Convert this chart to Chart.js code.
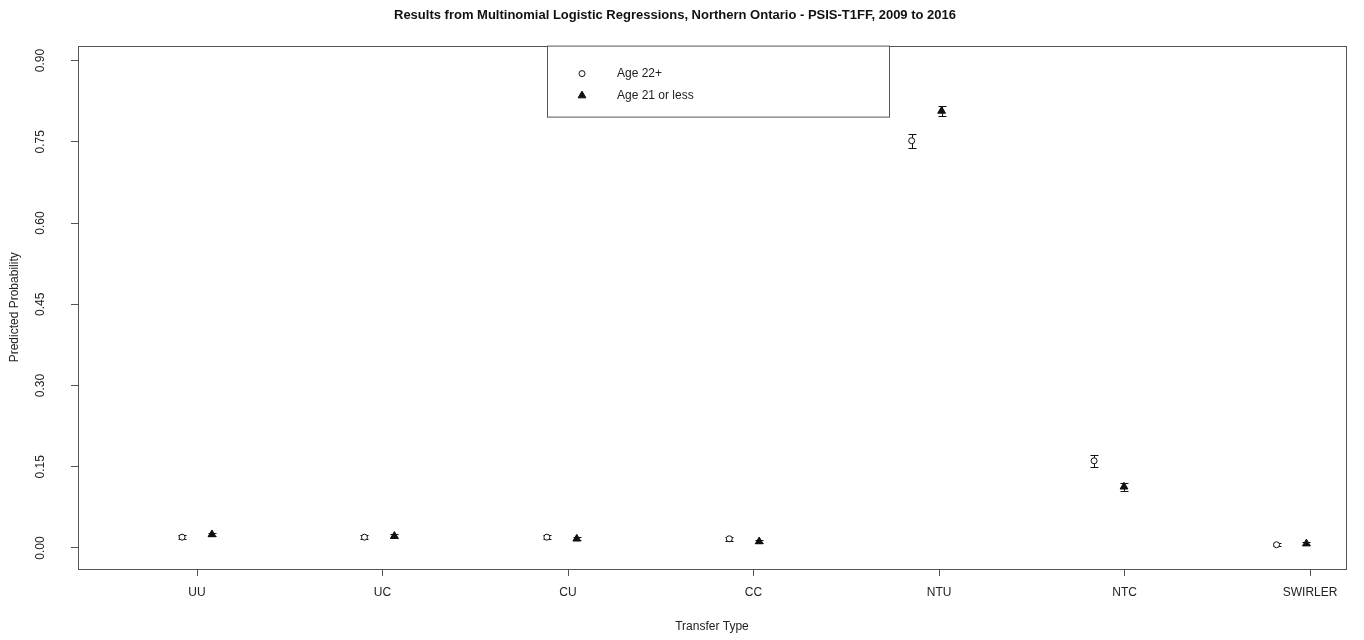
<!DOCTYPE html>
<html>
<head>
<meta charset="utf-8">
<title>Multinomial Logistic Regressions</title>
<script src="https://cdn.jsdelivr.net/npm/chart.js@4/dist/chart.umd.min.js"></script>
<style>
  html, body { margin: 0; padding: 0; background: #fff; }
  #wrap { width: 1364px; height: 640px; }
</style>
</head>
<body>
<div id="wrap"><canvas id="chart" width="1364" height="640"></canvas></div>
<script>
// Các loại chuyển tiếp (trục X)
const categories = ["UU", "UC", "CU", "CC", "NTU", "NTC", "SWIRLER"];
// Vị trí nhãn trục X (trong R nhãn đặt lệch dần so với điểm)
const categoryTickPos = [1, 2.017, 3.034, 4.051, 5.068, 6.085, 7.102];

// Xác suất dự đoán - nhóm tuổi 22+
const age22Values = [0.020, 0.020, 0.020, 0.017, 0.752, 0.161, 0.006];
const age22Lower  = [0.016, 0.016, 0.016, 0.013, 0.739, 0.150, 0.003];
const age22Upper  = [0.024, 0.024, 0.024, 0.021, 0.765, 0.172, 0.009];

// Xác suất dự đoán - nhóm tuổi 21 trở xuống
const age21Values = [0.025, 0.022, 0.017, 0.012, 0.807, 0.113, 0.008];
const age21Lower  = [0.022, 0.019, 0.014, 0.009, 0.798, 0.106, 0.005];
const age21Upper  = [0.028, 0.025, 0.020, 0.015, 0.816, 0.120, 0.011];

// Nhãn trục Y
const yTickLabels = ["0.00", "0.15", "0.30", "0.45", "0.60", "0.75", "0.90"];

const FONT = "'Liberation Sans', Arial, sans-serif";
const INK = "#222";
const OFFSET = 0.082; // lệch trái/phải của hai nhóm quanh mỗi loại

function toPoints(values, shift) {
  return values.map((v, i) => ({ x: i + 1 + shift, y: v }));
}

// Vẽ thanh sai số (khoảng tin cậy)
const errorBarPlugin = {
  id: "errorBars",
  beforeDatasetsDraw(chart) {
    const ctx = chart.ctx;
    const xs = chart.scales.x, ys = chart.scales.y;
    ctx.save();
    ctx.strokeStyle = "#111";
    ctx.lineWidth = 1;
    chart.data.datasets.forEach(ds => {
      ds.data.forEach((p, i) => {
        const px = Math.round(xs.getPixelForValue(p.x)) + 0.5;
        const top = Math.round(ys.getPixelForValue(ds.upper[i])) + 0.5;
        const bot = Math.round(ys.getPixelForValue(ds.lower[i])) + 0.5;
        ctx.beginPath();
        ctx.moveTo(px, top); ctx.lineTo(px, bot);
        ctx.moveTo(px - 4, top); ctx.lineTo(px + 4, top);
        ctx.moveTo(px - 4, bot); ctx.lineTo(px + 4, bot);
        ctx.stroke();
      });
    });
    ctx.restore();
  }
};

// Khung, nhãn trục Y xoay dọc và chú thích kiểu R
const frameLegendPlugin = {
  id: "frameLegend",
  afterDraw(chart) {
    const ctx = chart.ctx;
    const a = chart.chartArea;
    const ys = chart.scales.y;
    ctx.save();
    ctx.strokeStyle = "#555";
    ctx.lineWidth = 1;
    ctx.strokeRect(Math.round(a.left) + 0.5, Math.round(a.top) + 0.5,
      Math.round(a.right - a.left), Math.round(a.bottom - a.top));

    // nhãn trục Y
    ctx.fillStyle = INK;
    ctx.font = "12px " + FONT;
    ctx.textAlign = "center";
    ctx.textBaseline = "middle";
    yTickLabels.forEach(lbl => {
      const py = ys.getPixelForValue(parseFloat(lbl));
      ctx.save();
      ctx.translate(a.left - 37, py);
      ctx.rotate(-Math.PI / 2);
      ctx.fillText(lbl, 0, 0);
      ctx.restore();
    });

    // chú thích
    const lx = 547, lw = 342, ly = a.top, lh = 71;
    ctx.fillStyle = "#fff";
    ctx.fillRect(lx, ly, lw, lh);
    ctx.strokeStyle = "#555";
    ctx.strokeRect(lx + 0.5, ly + 0.5, lw, lh);
    ctx.textAlign = "left";
    chart.data.datasets.forEach((ds, k) => {
      const cy = ly + 28 + k * 22;
      ctx.fillStyle = ds.backgroundColor;
      ctx.strokeStyle = "#111";
      ctx.lineWidth = 1;
      Chart.helpers.drawPoint(ctx, {
        pointStyle: ds.pointStyle,
        radius: ds.pointRadius,
        borderWidth: 1
      }, 582, cy);
      ctx.fillStyle = INK;
      ctx.font = "12px " + FONT;
      ctx.fillText(ds.label, 617, cy);
    });
    ctx.restore();
  }
};

const chart = new Chart(document.getElementById("chart"), {
  type: "scatter",
  data: {
    datasets: [
      {
        label: "Age 22+",
        data: toPoints(age22Values, -OFFSET),
        lower: age22Lower,
        upper: age22Upper,
        pointStyle: "circle",
        pointRadius: 3,
        pointBorderWidth: 1,
        borderColor: "#111",
        backgroundColor: "#fff"
      },
      {
        label: "Age 21 or less",
        data: toPoints(age21Values, OFFSET),
        lower: age21Lower,
        upper: age21Upper,
        pointStyle: "triangle",
        pointRadius: 4.5,
        pointBorderWidth: 1,
        borderColor: "#111",
        backgroundColor: "#111"
      }
    ]
  },
  options: {
    responsive: false,
    animation: false,
    layout: { padding: { left: 4, right: 18, top: 0, bottom: 2 } },
    plugins: {
      legend: { display: false },
      tooltip: { enabled: false },
      title: {
        display: true,
        text: "Results from Multinomial Logistic Regressions, Northern Ontario - PSIS-T1FF, 2009 to 2016",
        color: "#111",
        font: { family: FONT, size: 13, weight: "bold" },
        padding: { top: 8, bottom: 22 }
      }
    },
    scales: {
      x: {
        type: "linear",
        min: 0.3476,
        max: 7.299,
        afterBuildTicks(scale) {
          scale.ticks = categoryTickPos.map(v => ({ value: v }));
        },
        afterFit(scale) { scale.height = 640 - 569 - 2; },
        ticks: {
          color: INK,
          font: { family: FONT, size: 12 },
          padding: 9,
          autoSkip: false,
          maxRotation: 0,
          callback: (v, i) => categories[i]
        },
        grid: { drawOnChartArea: false, color: "#555", tickLength: 7 },
        border: { display: false },
        title: {
          display: true,
          text: "Transfer Type",
          color: INK,
          font: { family: FONT, size: 12 },
          padding: { top: 14 }
        }
      },
      y: {
        min: -0.0388,
        max: 0.9277,
        afterBuildTicks(scale) {
          scale.ticks = yTickLabels.map(t => ({ value: parseFloat(t) }));
        },
        afterFit(scale) { scale.width = 78 - 4; },
        ticks: { display: false },
        grid: { drawOnChartArea: false, color: "#555", tickLength: 7 },
        border: { display: false },
        title: {
          display: true,
          text: "Predicted Probability",
          color: INK,
          font: { family: FONT, size: 12 },
          padding: { top: 3, bottom: 0 }
        }
      }
    }
  },
  plugins: [errorBarPlugin, frameLegendPlugin]
});
</script>
</body>
</html>
